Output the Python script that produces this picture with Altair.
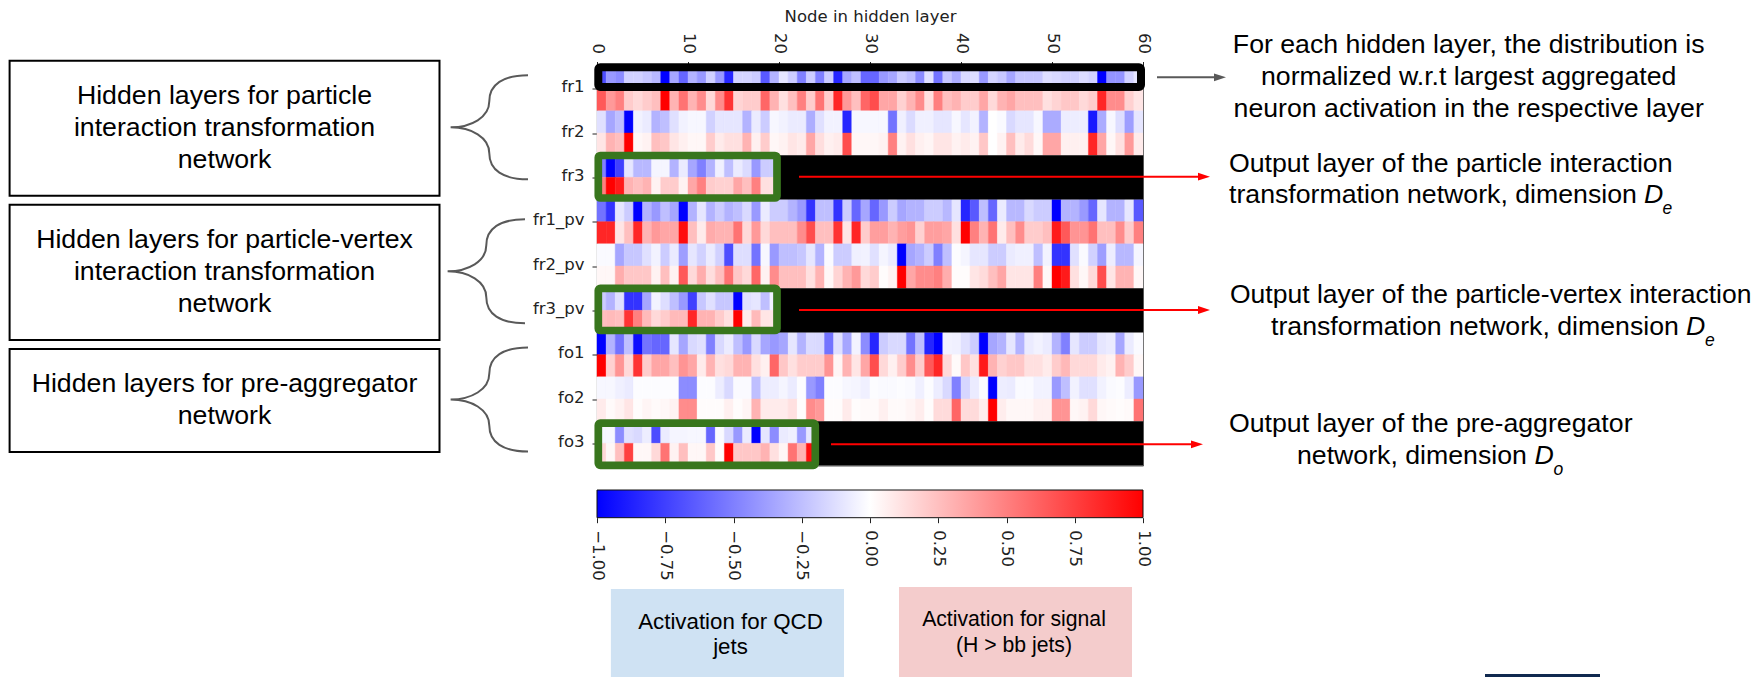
import altair as alt
import pandas as pd

layers = ["fr1", "fr2", "fr3", "fr1_pv", "fr2_pv", "fr3_pv", "fo1", "fo2", "fo3"]

qcd_fr1 = [.7,.4,.45,.18,.18,.22,.28,1,.35,.6, .3,.4,.18,.4,.85,.17,.17,.2,.65,.3, .1,.2,.5,.2,.5,.2,.85,.35,.25,.6,
           .6,.4,.35,.2,.25,.45,.12,.55,.22,.32, .15,.13,.4,.17,.22,.35,.22,.22,.22,.13, .15,.18,.18,.14,.18,1,.42,.42,.18,.1]
sig_fr1 = [.65,.4,.5,.2,.15,.2,.25,1,.3,.55, .3,.45,.15,.45,.8,.17,.2,.2,.6,.3, .12,.25,.5,.2,.55,.2,.85,.4,.25,.6,
           .7,.35,.35,.18,.3,.45,.12,.5,.25,.3, .2,.2,.35,.15,.3,.35,.25,.25,.25,.12, .17,.22,.22,.15,.2,.85,.45,.45,.18,.1]
qcd_fr2 = [.12,.35,.25,1,.05,.08,.3,.25,.12,.05, .03,.03,.18,.1,.1,.1,.3,.08,.2,.03, .05,.08,.08,.32,.12,.05,.05,.85,.03,.03,
           .03,.03,.55,.06,.14,.06,.06,.1,.1,.03, .1,.05,.3,0,.02,.15,.1,.1,.03,.33, .33,.07,.07,.07,.9,.33,.03,.13,.38,.1]
sig_fr2 = [.1,.3,.25,1,.03,.05,.25,.22,.1,.06, .03,.03,.2,.08,.12,.12,.3,.06,.2,.03, .05,.1,.08,.35,.13,.06,.08,.7,.03,.03,
           .03,.05,.5,.05,.12,.06,.04,.1,.1,.05, .08,.05,.22,0,.05,.25,.08,.14,.03,.35, .35,.06,.06,.06,.85,.35,.03,.12,.4,.08]
qcd_fr3 = [.5,1,.75,.1,.28,.28,.04,.04,.3,.08, .35,.5,.3,.06,.25,.08,.14,.4,.2,.2]
sig_fr3 = [.5,1,.9,.3,.25,.3,.05,.2,.2,.05, .35,.5,.2,.18,.18,.35,.25,.5,.12,.12]
qcd_fr1_pv = [.55,.8,.1,.2,1,.3,.4,.25,.35,1, .3,.1,.3,.2,.3,.25,.15,.4,.08,.2, .2,.3,.4,.8,.25,.25,.8,.2,.6,.35,
              .6,.4,.2,.35,.3,.3,.2,.2,.28,.1, .85,.65,.25,.6,.08,.28,.28,.15,.2,.2, 1,.3,.3,.4,.6,.1,.3,.3,.1,.65]
sig_fr1_pv = [.85,.85,.1,.25,.85,.3,.4,.35,.35,.95, .25,.08,.33,.3,.3,.55,.15,.4,.15,.25, .25,.25,.45,.7,.25,.25,.8,.1,.85,.2,
              .38,.38,.3,.38,.42,.18,.38,.38,.35,.12, 1,.5,.3,.55,.08,.25,.45,.2,.2,.25, .9,.65,.42,.42,.55,.25,.25,.45,.2,.5]
qcd_fr2_pv = [.02,.02,.35,.22,.22,.12,.05,.2,.08,.38, .1,.18,.08,.18,.7,.13,.13,.55,.03,.4, .25,.25,.22,.1,.3,.02,.2,.2,.06,.05,
              .12,.04,.08,1,.35,.3,.2,.5,.25,.01, .04,.1,.1,.2,.2,.08,.06,.06,.25,.05, .8,.8,.12,.02,.18,.38,.07,.28,.28,.04]
sig_fr2_pv = [.03,.03,.32,.22,.22,.22,.05,.25,.05,.65, .15,.32,.13,.25,.55,.22,.15,.6,.05,.45, .25,.25,.25,.12,.3,.03,.17,.3,.4,.15,
              .2,.01,.05,1,.35,.45,.45,.5,.32,.01, .01,.1,.14,.25,.35,.1,.1,.1,.5,.03, 1,.9,.12,.03,.15,.7,.1,.3,.3,.03]
qcd_fr3_pv = [.2,.3,.12,.8,.8,.35,.05,.13,.25,.4, .75,.22,.12,.22,.22,1,.12,.1,.25,.05]
sig_fr3_pv = [.25,.27,.25,.8,.5,.27,.15,.2,.27,.27, .85,.3,.3,.2,.12,1,.08,.27,.1,.1]
qcd_fo1 = [1,.3,.55,.25,.95,.55,.6,.6,.1,.35, .15,.12,.5,.15,.08,.25,.4,.15,.35,.4, .35,.1,.3,.14,.15,.55,.12,.35,.05,.45,
           .85,.2,.15,.15,.55,.25,.85,1,.05,.06, .12,.2,1,.35,.3,.1,.3,.08,.05,.08, .3,.5,.1,.2,.2,.1,.08,.35,.08,.02]
sig_fo1 = [1,.18,.42,.15,.8,.2,.35,.35,.25,.42, .35,.08,.3,.12,.15,.3,.3,.12,.06,.6, .22,.12,.2,.2,.2,.42,.04,.3,.1,.35,
           .7,.15,.06,.2,.45,.2,.65,.85,.15,.02, .22,.12,.9,.3,.18,.22,.22,.12,.12,.08, .2,.28,.15,.15,.15,.08,.05,.3,.2,.03]
qcd_fo2 = [.03,.03,.06,.08,.01,.01,.01,.01,.01,.45, .45,.01,.01,.07,.15,.02,.02,.25,.07,.07, .04,.08,.01,.4,.5,.01,.01,.03,.04,.06,
           .01,.02,.02,.01,.02,.06,.01,.07,.15,.5, .16,.08,.02,1,.07,.08,.02,.02,.05,.05, .4,.25,.05,.12,.12,.05,.02,.01,.07,.4]
sig_fo2 = [.08,.02,.05,.1,.01,.04,.02,.03,.05,.45, .45,.01,.01,.01,.06,.01,.04,.3,.08,.08, .08,.12,.01,.45,.4,.01,.01,.08,.01,.02,
           .02,.06,.02,.02,.04,.07,.01,.14,.14,.6, .14,.14,.07,1,.07,.03,.03,.03,.06,.06, .42,.42,.03,.05,.15,.03,.02,.01,.02,.55]
qcd_fo3 = [.03,.03,.45,.12,.15,.07,.7,.08,.04,.04, .03,.03,.6,.02,.15,.4,.08,1,.1,.45, .08,.06,.4,.1]
sig_fo3 = [.15,.03,.25,.75,.03,.03,.15,.55,.05,.25, .03,.03,.22,.02,1,.22,.22,.22,.3,.12, .04,.55,.3,.95]

qcd_rows = [qcd_fr1, qcd_fr2, qcd_fr3, qcd_fr1_pv, qcd_fr2_pv, qcd_fr3_pv, qcd_fo1, qcd_fo2, qcd_fo3]
sig_rows = [sig_fr1, sig_fr2, sig_fr3, sig_fr1_pv, sig_fr2_pv, sig_fr3_pv, sig_fo1, sig_fo2, sig_fo3]
node_ticks = [0, 10, 20, 30, 40, 50, 60]
cbar_ticks = [-1, -0.75, -0.5, -0.25, 0, 0.25, 0.5, 0.75, 1]
N_NODES = 60

cells, blanks = [], []
for i, (q, s) in enumerate(zip(qcd_rows, sig_rows)):
    for n, v in enumerate(q):
        cells.append({"n": n, "n2": n + 1, "r": 2 * i, "r2": 2 * i + 1, "v": -v})
    for n, v in enumerate(s):
        cells.append({"n": n, "n2": n + 1, "r": 2 * i + 1, "r2": 2 * i + 2, "v": v})
    if len(q) < N_NODES:
        blanks.append({"n": len(q), "n2": N_NODES, "r": 2 * i, "r2": 2 * i + 2})
cells = pd.DataFrame(cells)
blanks = pd.DataFrame(blanks)

OX, OY = 597.0, 66.5   # page position of the plot area
W, H = 546, 399
TICK_FONT = "DejaVu Sans"
TXT_FONT = "Liberation Sans"
TICK_SIZE = 16.5
GREY = "#595959"
GREEN = "#38761d"

blank_data = alt.Data(values=[{}])
xs = alt.Scale(domain=[0, N_NODES], nice=False, zero=False)
ys = alt.Scale(domain=[0, 18], nice=False, zero=False, reverse=True)
cs = alt.Scale(domain=[-1, 0, 1], range=["#0000ff", "#ffffff", "#ff0000"], interpolate="rgb")
label_js = "[" + ",".join(f"'{l}'" for l in layers) + "][(datum.value-1)/2]"

y_axis = alt.Axis(
    values=[2 * i + 1 for i in range(9)], labelExpr=label_js, title=None,
    labelFont=TICK_FONT, labelFontSize=TICK_SIZE, labelColor="#222222", labelPadding=8, labelOffset=-2,
    tickColor="#222222", tickSize=5, grid=False, domainColor="#111111", domainWidth=1.2)

heat = alt.Chart(cells).mark_rect(strokeWidth=0.4).encode(
    x=alt.X("n:Q", scale=xs, axis=alt.Axis(
        orient="top", values=node_ticks, labelAngle=90, title="Node in hidden layer",
        titleFont=TICK_FONT, titleFontSize=TICK_SIZE, titleFontWeight="normal", titleColor="#222222",
        labelFont=TICK_FONT, labelFontSize=TICK_SIZE, labelColor="#222222", labelPadding=8,
        tickColor="#222222", tickSize=5, grid=False, domain=False, titlePadding=8)),
    x2="n2:Q",
    y=alt.Y("r:Q", scale=ys, axis=y_axis),
    y2="r2:Q",
    color=alt.Color("v:Q", scale=cs, legend=None),
    stroke=alt.Color("v:Q", scale=cs, legend=None),
)

black = alt.Chart(blanks).mark_rect(color="#000000").encode(
    x=alt.X("n:Q", scale=xs, axis=None), x2="n2:Q",
    y=alt.Y("r:Q", scale=ys, axis=y_axis), y2="r2:Q",
)

cbar_df = pd.DataFrame({"lo": [cbar_ticks[0]], "hi": [cbar_ticks[-1]]})
cbar = alt.Chart(cbar_df).mark_rect(
    color=alt.LinearGradient(
        gradient="linear", x1=0, x2=1, y1=0, y2=0,
        stops=[alt.GradientStop(color="#0000ff", offset=0),
               alt.GradientStop(color="#ffffff", offset=0.5),
               alt.GradientStop(color="#ff0000", offset=1)]),
    stroke="#111111", strokeWidth=1,
).encode(
    x=alt.X("lo:Q", scale=alt.Scale(domain=[-1, 1], nice=False, zero=False), axis=alt.Axis(
        orient="bottom", offset=52.2, values=cbar_ticks, format=".2f", labelAngle=90, title=None,
        labelFont=TICK_FONT, labelFontSize=TICK_SIZE, labelColor="#222222", labelPadding=7,
        tickColor="#222222", tickSize=5, grid=False, domain=False)),
    x2="hi:Q",
    y=alt.value(490 - OY), y2=alt.value(517.7 - OY),
)


def box(x0, y0, x1, y1, fill="transparent", stroke=None, sw=0, radius=0):
    kw = dict(fill=fill, cornerRadius=radius)
    if stroke:
        kw.update(stroke=stroke, strokeWidth=sw)
    return alt.Chart(blank_data).mark_rect(**kw).encode(
        x=alt.value(x0 - OX), x2=alt.value(x1 - OX),
        y=alt.value(y0 - OY), y2=alt.value(y1 - OY))


def label(text, x, y, size=26.7, align="center", italic=False, font=TXT_FONT):
    return alt.Chart(blank_data).mark_text(
        text=text, font=font, fontSize=size, align=align, baseline="middle",
        fontStyle="italic" if italic else "normal", color="#000000",
    ).encode(x=alt.value(x - OX), y=alt.value(y + 1 - OY))


def arrow(x0, x1, y, color, sw):
    line = alt.Chart(blank_data).mark_rule(color=color, strokeWidth=sw).encode(
        x=alt.value(x0 - OX), x2=alt.value(x1 - 8 - OX), y=alt.value(y - OY))
    head = alt.Chart(blank_data).mark_point(
        shape="M-1,-0.65L1,0L-1,0.65Z", size=144, filled=True, color=color, opacity=1,
    ).encode(x=alt.value(x1 - 6 - OX), y=alt.value(y - OY))
    return [line, head]


def brace(x, y, half, reach=77.4):
    m = reach / 2
    h = half / 2
    path = (f"M{reach},{-half}C{m + 14},{-half} {m},{-half + 9} {m},{-h}"
            f"C{m},{-h + 16} {m - 18},0 0,0C{m - 18},0 {m},{h - 16} {m},{h}"
            f"C{m},{half - 9} {m + 14},{half} {reach},{half}")
    return alt.Chart(blank_data).mark_point(
        shape=path, size=4, filled=False, stroke=GREY, strokeWidth=2, fillOpacity=0, opacity=1,
    ).encode(x=alt.value(x - OX), y=alt.value(y - OY))


parts = [heat, black, cbar]

# selection frames over the heat map
parts += [
    box(598.3, 67.2, 1141, 87.1, stroke="#000000", sw=8, radius=2),
    box(598.3, 155.5, 777, 198, stroke=GREEN, sw=7.7, radius=2),
    box(598.3, 288.3, 777, 330.5, stroke=GREEN, sw=7.7, radius=2),
    box(598.3, 423.2, 815.3, 465.3, stroke=GREEN, sw=7.7, radius=2),
]

# left boxes
parts += [
    box(9.6, 60.7, 439.5, 195.7, fill="#ffffff", stroke="#000000", sw=2),
    box(9.6, 204.7, 439.5, 340, fill="#ffffff", stroke="#000000", sw=2),
    box(9.6, 349, 439.5, 452, fill="#ffffff", stroke="#000000", sw=2),
    label("Hidden layers for particle", 224.5, 95),
    label("interaction transformation", 224.5, 127),
    label("network", 224.5, 159),
    label("Hidden layers for particle-vertex", 224.5, 239),
    label("interaction transformation", 224.5, 271),
    label("network", 224.5, 303),
    label("Hidden layers for pre-aggregator", 224.5, 383),
    label("network", 224.5, 415),
    brace(450.6, 127.3, 52),
    brace(447.6, 271.3, 52),
    brace(450.6, 399.5, 52),
]

# arrows
parts += arrow(1157, 1226, 77.3, GREY, 2)
parts += arrow(799, 1210, 176.7, "#ff0000", 2)
parts += arrow(799, 1210, 310, "#ff0000", 2)
parts += arrow(831, 1203, 444.3, "#ff0000", 2)

# right-hand notes
parts += [
    label("For each hidden layer, the distribution is", 1468.7, 44),
    label("normalized w.r.t largest aggregated", 1468.7, 76),
    label("neuron activation in the respective layer", 1468.7, 108.3),
    label("Output layer of the particle interaction", 1229, 162.7, align="left"),
    label("transformation network, dimension ", 1229, 194.3, align="left"),
    label("D", 1644, 194.3, align="left", italic=True),
    label("e", 1662.5, 208, size=17.5, align="left", italic=True),
    label("Output layer of the particle-vertex interaction", 1230, 294, size=26.5, align="left"),
    label("transformation network, dimension ", 1271, 326, align="left"),
    label("D", 1686, 326, align="left", italic=True),
    label("e", 1705, 340, size=17.5, align="left", italic=True),
    label("Output layer of the pre-aggregator", 1229, 422.7, align="left"),
    label("network, dimension ", 1297, 455, align="left"),
    label("D", 1534.5, 455, align="left", italic=True),
    label("o", 1553.5, 469, size=17.5, align="left", italic=True),
]

# bottom boxes
parts += [
    box(610.9, 589, 844, 680, fill="#cfe2f3"),
    box(899, 587, 1132, 677.7, fill="#f4cccc"),
    label("Activation for QCD", 730.5, 620.7, size=22.3),
    label("jets", 730.5, 645.7, size=22.3),
    label("Activation for signal", 1014, 618.7, size=21.2),
    label("(H > bb jets)", 1014, 645, size=21.2),
    box(1485, 674, 1600, 681, fill="#10294f"),
]

chart = alt.layer(*parts).resolve_scale(x="independent").properties(
    width=W, height=H,
    padding={"left": OX - 8, "top": OY - 8, "right": 1744 - (OX - 8) - W, "bottom": 669 - (OY - 8) - H},
    autosize=alt.AutoSizeParams(type="none"),
).configure_view(stroke="#555555", strokeWidth=1)

chart.save("out.html", embed_options={"renderer": "svg", "actions": False})
